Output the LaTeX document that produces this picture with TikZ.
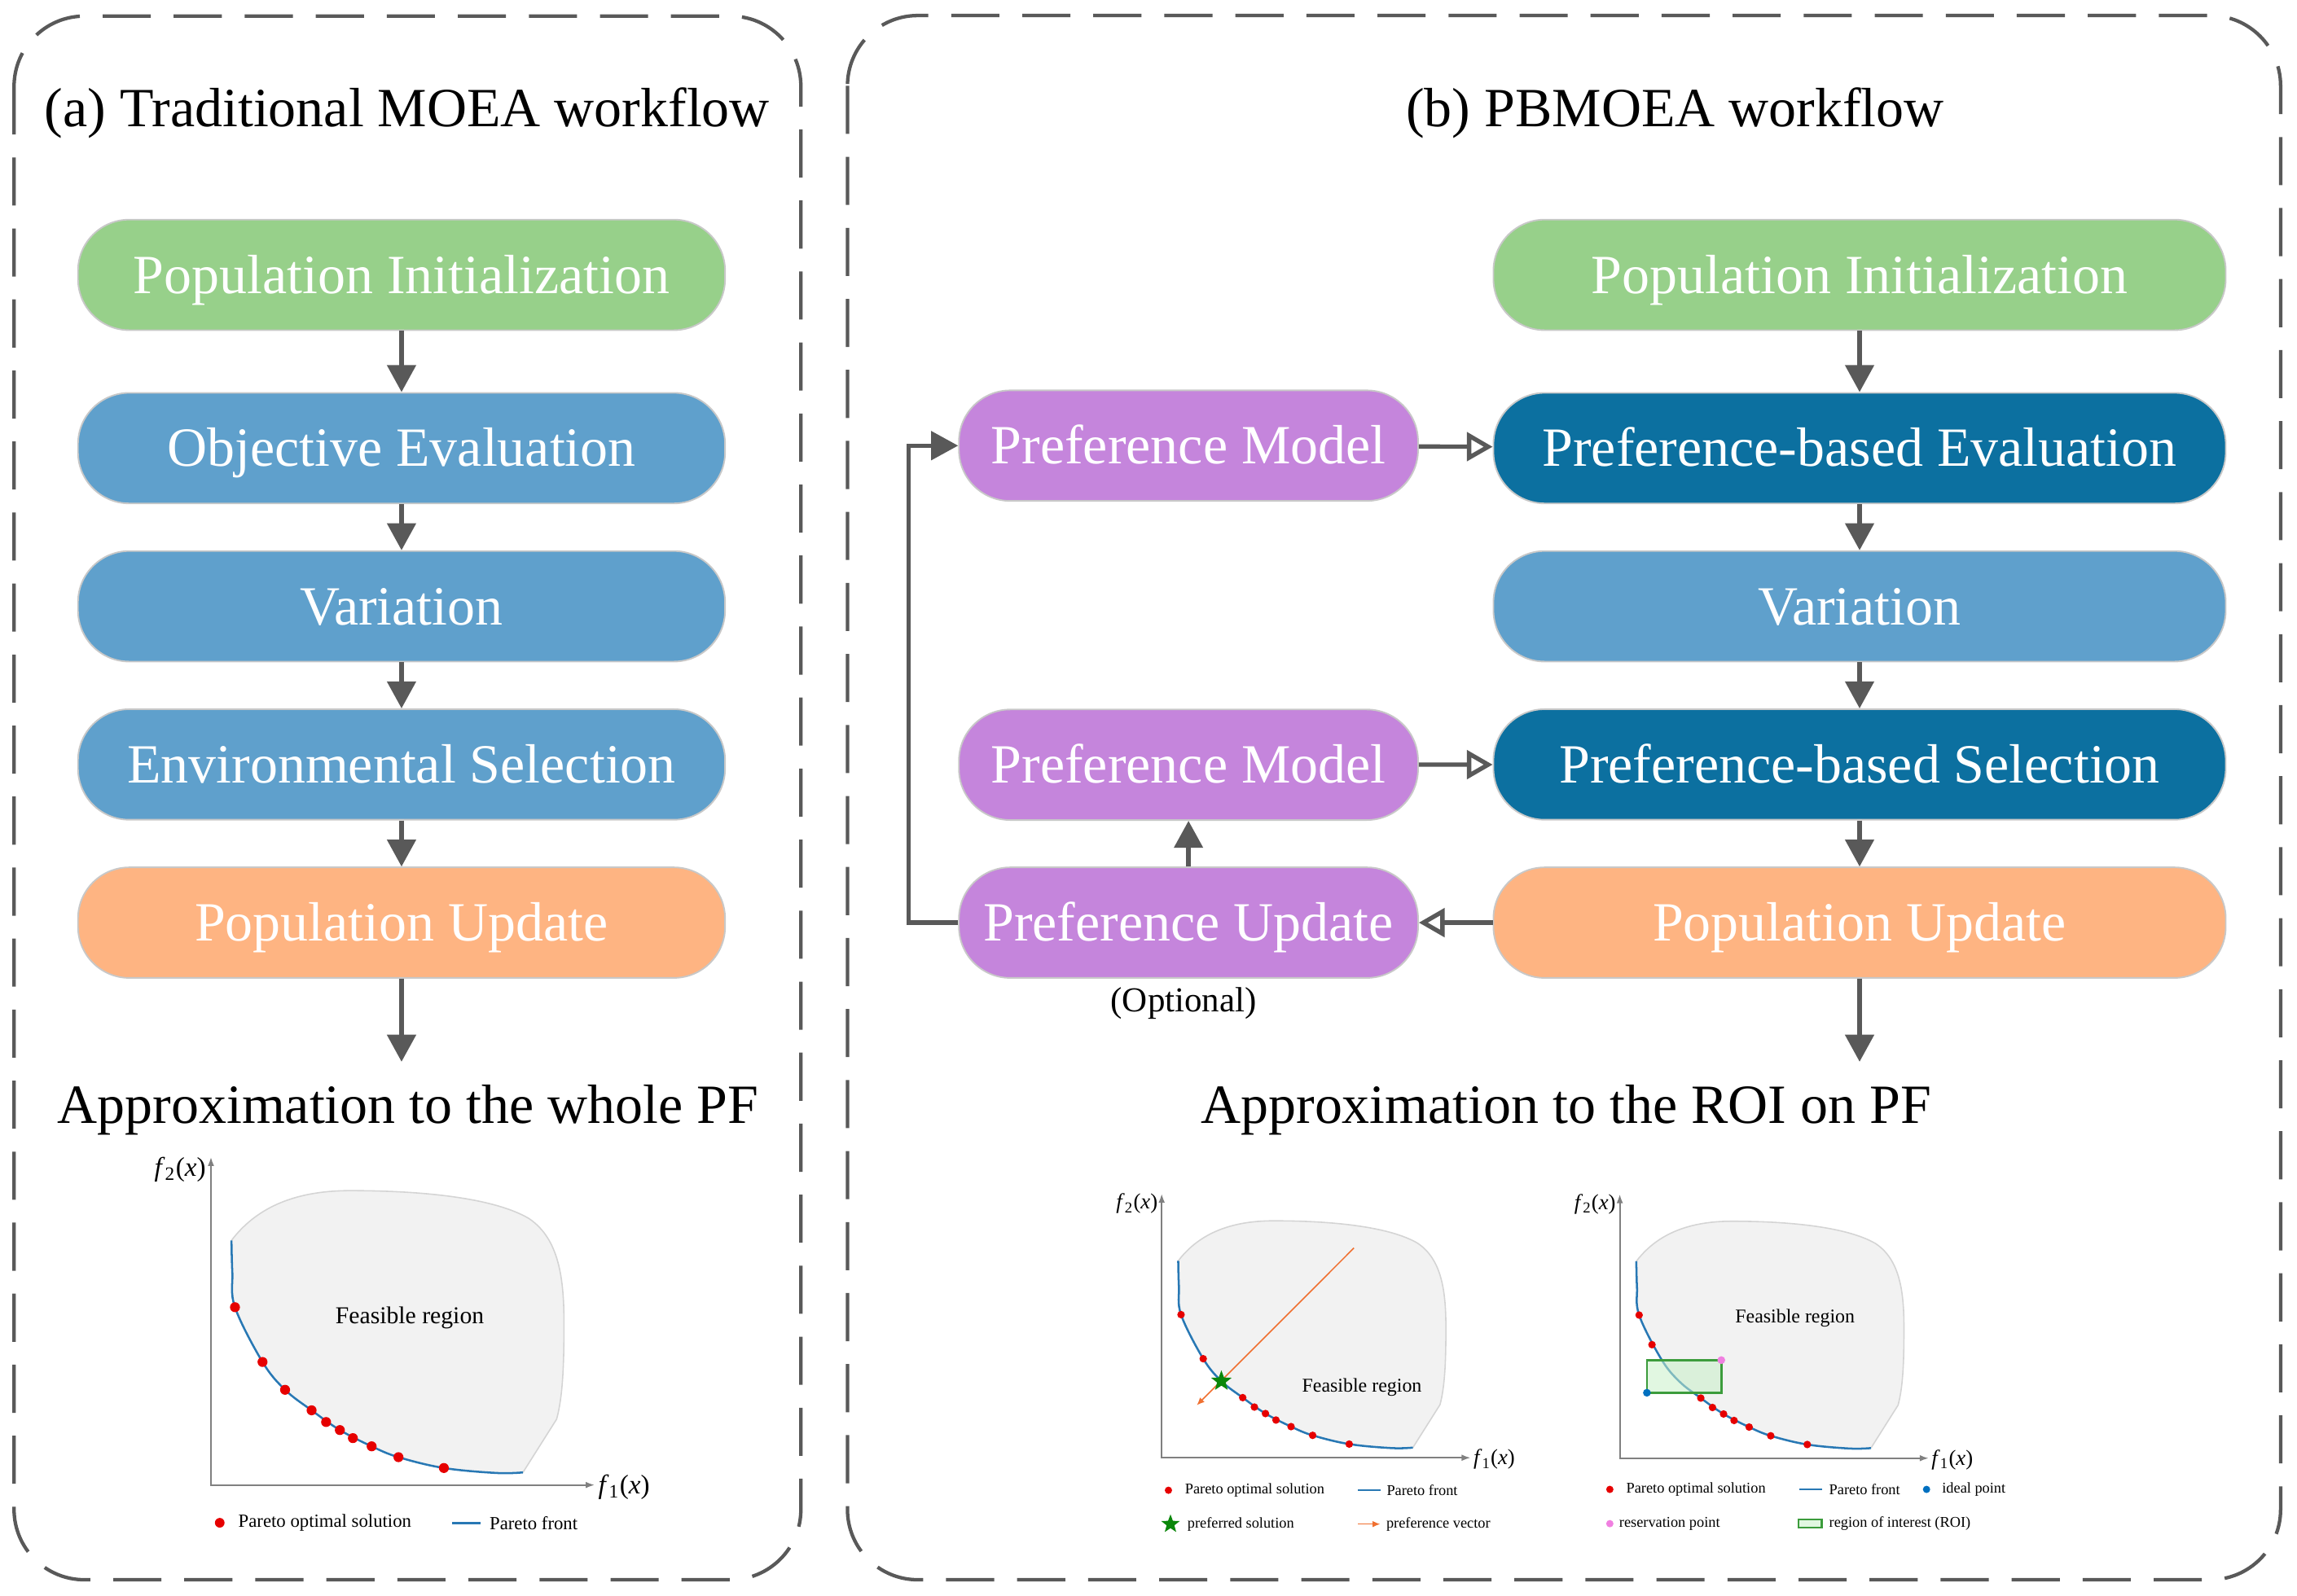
\documentclass[tikz,border=0pt]{standalone}
\usepackage{fontspec}
\setmainfont{Liberation Serif}
\usetikzlibrary{arrows.meta,shapes.geometric}

\definecolor{flowgreen}{RGB}{151,208,138}
\definecolor{flowblue}{RGB}{95,160,204}
\definecolor{flowdark}{RGB}{12,112,160}
\definecolor{floworange}{RGB}{254,180,130}
\definecolor{flowpurple}{RGB}{197,133,220}
\definecolor{nodeborder}{RGB}{200,200,200}
\definecolor{linegray}{RGB}{89,89,89}
\definecolor{axisgray}{RGB}{128,128,128}
\definecolor{regiongray}{RGB}{242,242,242}
\definecolor{regionedge}{RGB}{212,212,212}
\definecolor{dotred}{RGB}{230,0,0}
\definecolor{frontblue}{RGB}{40,120,180}
\definecolor{vecorange}{RGB}{240,112,48}
\definecolor{stargreen}{RGB}{10,135,10}
\definecolor{idealblue}{RGB}{0,112,192}
\definecolor{respink}{RGB}{240,128,224}
\definecolor{roigreen}{RGB}{60,156,60}
\definecolor{roifill}{RGB}{200,240,200}

\newcommand{\feasibleplot}[1]{
	\fill[regiongray] plot[smooth, tension=0.6] coordinates {(14,167) (14.6,145) (16.4,121.4) (35.2,84) (50.6,65) (68.7,51) (88,37.5) (109.7,26.4) (128,19) (159,11.6) (195,8.2) (213,8.6)}
		-- (236,45) .. controls (240,60) and (241,80) .. (241,110)
		.. controls (241,140) and (238,168) .. (217,182)
		.. controls (195,195) and (150,201) .. (95,201)
		.. controls (55,201) and (30,188) .. (14,167) -- cycle;
	\draw[regionline] (213,8.6) -- (236,45) .. controls (240,60) and (241,80) .. (241,110)
		.. controls (241,140) and (238,168) .. (217,182)
		.. controls (195,195) and (150,201) .. (95,201)
		.. controls (55,201) and (30,188) .. (14,167);
	\draw[frontline] plot[smooth, tension=0.6] coordinates {(14,167) (14.6,145) (16.4,121.4) (35.2,84) (50.6,65) (68.7,51) (88,37.5) (109.7,26.4) (128,19) (159,11.6) (195,8.2) (213,8.6)};
	\draw[axisline] (0,224) -- (0,0) -- (262,0);
	\node[axislabel] (#1f2) at (-21,215.4) {\textit{f}\textsubscript{2}(\textit{x})};
	\node[axislabel] (#1f1) at (282,-1.5) {\textit{f}\textsubscript{1}(\textit{x})};
}

\begin{document}
\begin{tikzpicture}[x=0.02cm, y=-0.02cm,
	flow/.style={draw=nodeborder, line width=0.6pt, rounded corners=0.7cm, minimum height=1.51cm, inner sep=0pt, text=white, font=\fontsize{21.5}{25}\selectfont, text height=14.2pt, text depth=0pt},
	leftflow/.style={flow, minimum width=8.836cm},
	rightflow/.style={flow, minimum width=10cm},
	prefflow/.style={flow, minimum width=6.27cm, fill=flowpurple},
	heading/.style={inner sep=0pt, font=\fontsize{21.5}{25}\selectfont, text height=14.2pt, text depth=0pt},
	flowarrow/.style={draw=linegray, line width=1.7pt, -{Triangle[length=10.5pt, width=11pt]}},
	openarrow/.style={draw=linegray, line width=1.7pt, -{Triangle[open, length=10pt, width=11pt]}},
	dashbox/.style={draw=linegray, line width=1.35pt, dash pattern=on 18.7pt off 8.9pt, rounded corners=0.96cm},
	regionline/.style={draw=regionedge, line width=0.5pt},
	frontline/.style={draw=frontblue, line width=0.8pt},
	axisline/.style={draw=axisgray, line width=0.6pt, {Latex[length=3.5pt, width=2.5pt]}-{Latex[length=3.5pt, width=2.5pt]}},
	axislabel/.style={inner sep=0pt, font=\fontsize{10.5}{12}\selectfont},
	feasfont/.style={inner sep=0pt, font=\fontsize{9.4}{11}\selectfont},
	legendbig/.style={inner sep=0pt, anchor=west, font=\fontsize{7.2}{8.5}\selectfont},
	legendsmall/.style={inner sep=0pt, anchor=west, font=\fontsize{5.8}{7}\selectfont},
	prefstar/.style={star, star points=5, star point ratio=2.4, fill=stargreen, inner sep=0pt},
	roibox/.style={draw=roigreen, fill=roifill, fill opacity=0.55, line width=0.8pt}]

	\useasboundingbox (0,0) rectangle (1568,1089.3);

	\draw[dashbox] (9.6,11) rectangle (546.7,1078.7);
	\draw[dashbox] (578.5,10.6) rectangle (1556.8,1078.7);

	\node[heading] (ta) at (278,74) {(a) Traditional MOEA workflow};
	\node[heading] (tb) at (1143.5,74) {(b) PBMOEA workflow};

	\node[leftflow, fill=flowgreen] (lpi) at (274.1,187.7) {Population Initialization};
	\node[leftflow, fill=flowblue] (loe) at (274.1,306) {Objective Evaluation};
	\node[leftflow, fill=flowblue] (lva) at (274.1,414) {Variation};
	\node[leftflow, fill=flowblue] (les) at (274.1,522) {Environmental Selection};
	\node[leftflow, fill=floworange] (lpu) at (274.1,630) {Population Update};
	\coordinate (lend) at (274.1,725);
	\node[heading] (lpf) at (278.5,754.5) {Approximation to the whole PF};

	\draw[flowarrow] (lpi) -- (loe);
	\draw[flowarrow] (loe) -- (lva);
	\draw[flowarrow] (lva) -- (les);
	\draw[flowarrow] (les) -- (lpu);
	\draw[flowarrow] (lpu) -- (lend);

	\node[rightflow, fill=flowgreen] (rpi) at (1269.4,187.7) {Population Initialization};
	\node[rightflow, fill=flowdark] (rpe) at (1269.4,306) {Preference-based Evaluation};
	\node[rightflow, fill=flowblue] (rva) at (1269.4,414) {Variation};
	\node[rightflow, fill=flowdark] (rps) at (1269.4,522) {Preference-based Selection};
	\node[rightflow, fill=floworange] (rpu) at (1269.4,630) {Population Update};
	\coordinate (rend) at (1269.4,725);
	\node[heading] (rpf) at (1069,754.5) {Approximation to the ROI on PF};

	\node[prefflow] (pm1) at (811.3,304.3) {Preference Model};
	\node[prefflow] (pm2) at (811.3,522.2) {Preference Model};
	\node[prefflow] (pup) at (811.3,630) {Preference Update};
	\node[inner sep=0pt, font=\fontsize{13.6}{16}\selectfont, text height=9pt, text depth=0pt] (opt) at (808,682.8) {(Optional)};
	\coordinate (fb) at (620.4,630);

	\draw[flowarrow] (rpi) -- (rpe);
	\draw[flowarrow] (rpe) -- (rva);
	\draw[flowarrow] (rva) -- (rps);
	\draw[flowarrow] (rps) -- (rpu);
	\draw[flowarrow] (rpu) -- (rend);
	\draw[openarrow] (pm1) -- (rpe);
	\draw[openarrow] (pm2) -- (rps);
	\draw[openarrow] (rpu) -- (pup);
	\draw[flowarrow] (pup) -- (pm2);
	\draw[flowarrow] (pup.west) -- (fb) |- (pm1.west);

	\begin{scope}[shift={(144,1014)}, x=0.02cm, y=0.02cm]
		\feasibleplot{l}
		\foreach \p in {(16.4,121.4),(35.2,84),(50.6,65),(68.7,51),(78.6,43),(88,37.5),(96.9,32),(109.7,26.4),(128,19),(159,11.6)}
			\fill[dotred] \p circle (3.4);
		\node[feasfont] (lfeas) at (135.7,114.4) {Feasible region};
	\end{scope}

	\fill[dotred] (150,1039.8) circle (3.3);
	\node[legendbig] (lk1) at (162.4,1040) {Pareto optimal solution};
	\draw[frontline] (308.6,1040) -- (327.9,1040);
	\node[legendbig] (lk2) at (333.9,1040) {Pareto front};

	\begin{scope}[shift={(793,995.4)}, x=0.02cm, y=0.02cm, scale=0.805, transform shape]
		\feasibleplot{m}
		\draw[vecorange, line width=0.5pt, -{Latex[length=3pt, width=2.5pt]}] (163,177.9) -- (29.7,44.5);
		\foreach \p in {(16.4,121.4),(35.2,84),(68.7,51),(78.6,43),(88,37.5),(96.9,32),(109.7,26.4),(128,19),(159,11.6)}
			\fill[dotred] \p circle (3.2);
		\node[prefstar, minimum size=0.366cm] (mstar) at (50.6,65) {};
		\node[feasfont] (mfeas) at (169.8,59.9) {Feasible region};
	\end{scope}

	\fill[dotred] (797.6,1017.6) circle (2.5);
	\node[legendsmall] (mk1) at (808.6,1017.6) {Pareto optimal solution};
	\draw[frontline] (926.9,1017.6) -- (942.6,1017.6);
	\node[legendsmall] (mk2) at (946.3,1017.6) {Pareto front};
	\node[prefstar, minimum size=0.266cm] (mk3) at (799,1040.7) {};
	\node[legendsmall] (mk4) at (810.3,1040.7) {preferred solution};
	\draw[vecorange, line width=0.5pt, -{Latex[length=3pt, width=2.5pt]}] (926.9,1040.7) -- (942.2,1040.7);
	\node[legendsmall] (mk5) at (946,1040.7) {preference vector};

	\begin{scope}[shift={(1105.7,995.7)}, x=0.02cm, y=0.02cm, scale=0.805, transform shape]
		\feasibleplot{r}
		\draw[roibox] (23,55.5) rectangle (86.1,83.2);
		\foreach \p in {(16.4,121.4),(27.3,96.3),(68.7,51),(78.6,43),(88,37.5),(96.9,32),(109.7,26.4),(128,19),(159,11.6)}
			\fill[dotred] \p circle (3.2);
		\fill[idealblue] (23,55.5) circle (3.3);
		\fill[respink] (86.1,83.2) circle (3.3);
		\node[feasfont] (rfeas) at (148.6,118.9) {Feasible region};
	\end{scope}

	\fill[dotred] (1098.9,1017) circle (2.5);
	\node[legendsmall] (rk1) at (1109.8,1017) {Pareto optimal solution};
	\draw[frontline] (1228.4,1017) -- (1243.6,1017);
	\node[legendsmall] (rk2) at (1248.3,1017) {Pareto front};
	\fill[idealblue] (1315.1,1017) circle (2.5);
	\node[legendsmall] (rk3) at (1325.4,1017) {ideal point};
	\fill[respink] (1098.9,1040.4) circle (2.5);
	\node[legendsmall] (rk4) at (1105,1040.4) {reservation point};
	\draw[roibox] (1227.8,1037.6) rectangle (1243.6,1043.2);
	\node[legendsmall] (rk5) at (1248.3,1040.4) {region of interest (ROI)};
\end{tikzpicture}
\end{document}
